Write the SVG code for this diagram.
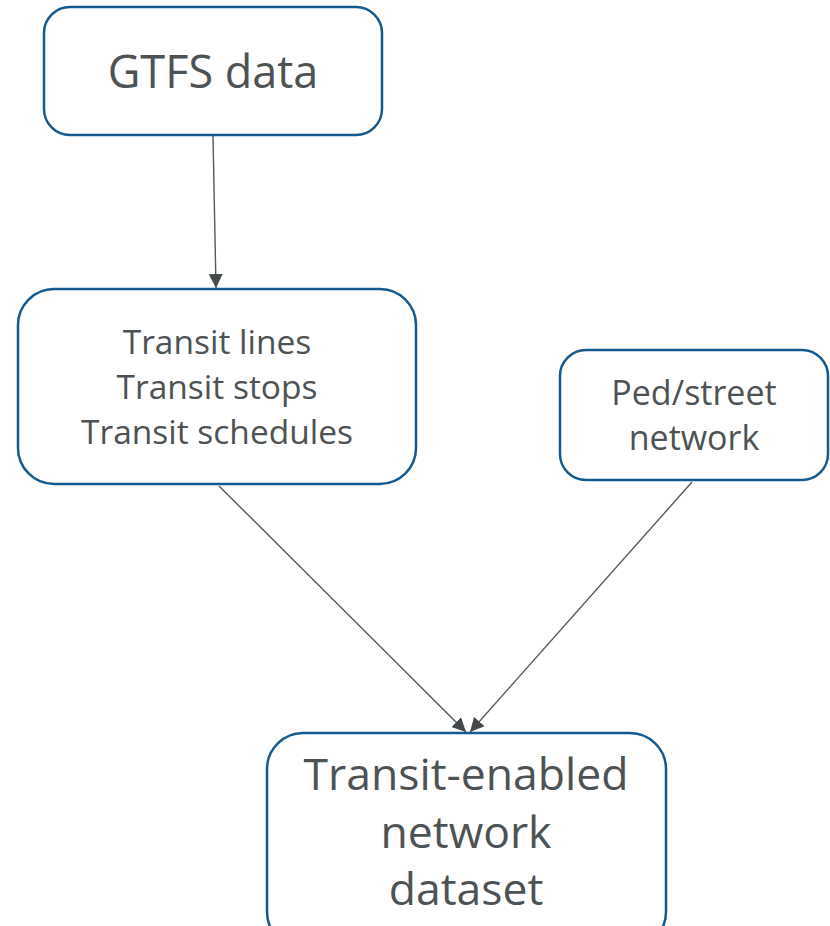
<svg xmlns="http://www.w3.org/2000/svg" width="830" height="926" viewBox="0 0 830 926">
  <style>
    .box { fill: #ffffff; stroke: #155a8e; stroke-width: 2.5; }
    .lbl { font-family: "Open Sans", "Noto Sans", "Liberation Sans", sans-serif; fill: #4d5254; text-anchor: middle; }
    .edge { stroke: #555a5c; stroke-width: 1.4; fill: none; marker-end: url(#arrow); }
  </style>
  <defs>
    <marker id="arrow" viewBox="0 0 14 14" refX="14" refY="7" markerWidth="14" markerHeight="14" markerUnits="userSpaceOnUse" orient="auto">
      <path d="M0,0 L14,7 L0,14 z" fill="#45494b"/>
    </marker>
  </defs>
  <rect width="830" height="926" fill="#ffffff"/>

  <g id="connectors">
    <line class="edge" x1="213" y1="136" x2="216" y2="288"/>
    <line class="edge" x1="219" y1="486" x2="466" y2="732"/>
    <line class="edge" x1="692" y1="482" x2="470" y2="732"/>
  </g>

  <g id="gtfs">
    <rect class="box" x="44" y="7" width="338" height="128" rx="26"/>
    <text class="lbl" x="213" y="88" font-size="45">GTFS data</text>
  </g>

  <!-- multi-line labels: no whitespace between tspans so each line centres exactly -->
  <g id="transit-features">
    <rect class="box" x="18" y="289" width="398" height="195" rx="36"/>
    <text class="lbl" font-size="33.5"><tspan x="217" y="354">Transit lines</tspan><tspan x="217" y="399">Transit stops</tspan><tspan x="217" y="444">Transit schedules</tspan></text>
  </g>

  <g id="ped-street">
    <rect class="box" x="560" y="350" width="268" height="130" rx="26"/>
    <text class="lbl" font-size="34"><tspan x="694" y="405">Ped/street</tspan><tspan x="694" y="450">network</tspan></text>
  </g>

  <g id="network-dataset">
    <rect class="box" x="267" y="733" width="399" height="215" rx="36"/>
    <text class="lbl" font-size="44.5"><tspan x="466" y="790">Transit-enabled</tspan><tspan x="466" y="848">network</tspan><tspan x="466" y="905">dataset</tspan></text>
  </g>
</svg>
